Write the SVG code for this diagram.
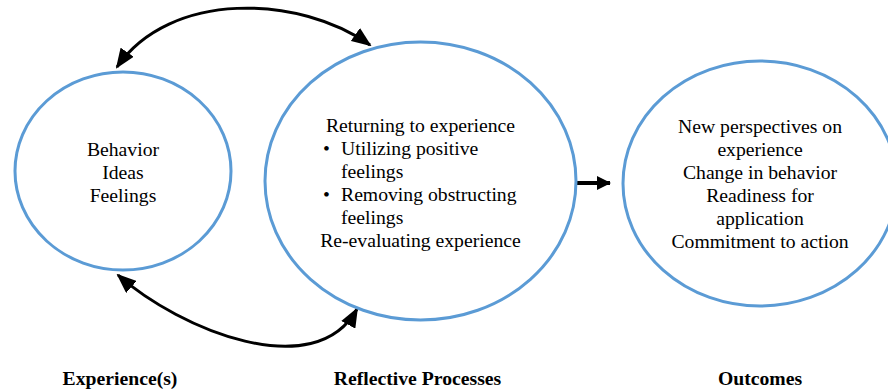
<svg xmlns="http://www.w3.org/2000/svg" width="888" height="389" viewBox="0 0 888 389">
<defs>
<style>
.node{fill:#fff;stroke:#5B9BD5;stroke-width:3}
text{font-family:'Liberation Serif','Times New Roman',serif;font-size:19.7px;fill:#000}
.c{text-anchor:middle}
.b{font-weight:bold}
.conn{fill:none;stroke:#000;stroke-width:3}
</style>
<marker id="ah" markerUnits="userSpaceOnUse" markerWidth="20" markerHeight="16" viewBox="0 0 20 16" refX="18" refY="8" orient="auto-start-reverse">
<path d="M0,0 L20,8 L0,16 Z" fill="#000"/>
</marker>
<marker id="ah2" markerUnits="userSpaceOnUse" markerWidth="14" markerHeight="14" viewBox="0 0 14 14" refX="13" refY="7" orient="auto">
<path d="M0,0 L14,7 L0,14 Z" fill="#000"/>
</marker>
</defs>
<rect width="888" height="389" fill="#fff"/>
<g id="connectors">
<path class="conn" d="M 117 67 C 170 -10, 300 -5, 370 45" marker-start="url(#ah)" marker-end="url(#ah)"/>
<path class="conn" d="M 118 275 C 180 330, 315 385, 357 309" marker-start="url(#ah)" marker-end="url(#ah)"/>
<path class="conn" style="stroke-width:4" d="M 576 183 L 610 183" marker-end="url(#ah2)"/>
</g>
<g id="experience">
<ellipse class="node" cx="123" cy="171" rx="108" ry="99"/>
<text class="c" x="123" y="156">Behavior</text>
<text class="c" x="123" y="179">Ideas</text>
<text class="c" x="123" y="202">Feelings</text>
</g>
<g id="reflective">
<ellipse class="node" cx="420.5" cy="181" rx="155.5" ry="139"/>
<text class="c" x="420.5" y="132">Returning to experience</text>
<text x="323" y="155">•</text>
<text x="341" y="155">Utilizing positive</text>
<text x="341" y="178">feelings</text>
<text x="323" y="201">•</text>
<text x="341" y="201">Removing obstructing</text>
<text x="341" y="224">feelings</text>
<text class="c" x="420.5" y="247">Re-evaluating experience</text>
</g>
<g id="outcomes">
<ellipse class="node" cx="760" cy="183.5" rx="137" ry="122.5"/>
<text class="c" x="760" y="133">New perspectives on</text>
<text class="c" x="760" y="156">experience</text>
<text class="c" x="760" y="179">Change in behavior</text>
<text class="c" x="760" y="202">Readiness for</text>
<text class="c" x="760" y="225">application</text>
<text class="c" x="760" y="248">Commitment to action</text>
</g>
<g id="labels">
<text class="c b" x="120" y="385">Experience(s)</text>
<text class="c b" x="417.5" y="385">Reflective Processes</text>
<text class="c b" x="760" y="385">Outcomes</text>
</g>
</svg>
